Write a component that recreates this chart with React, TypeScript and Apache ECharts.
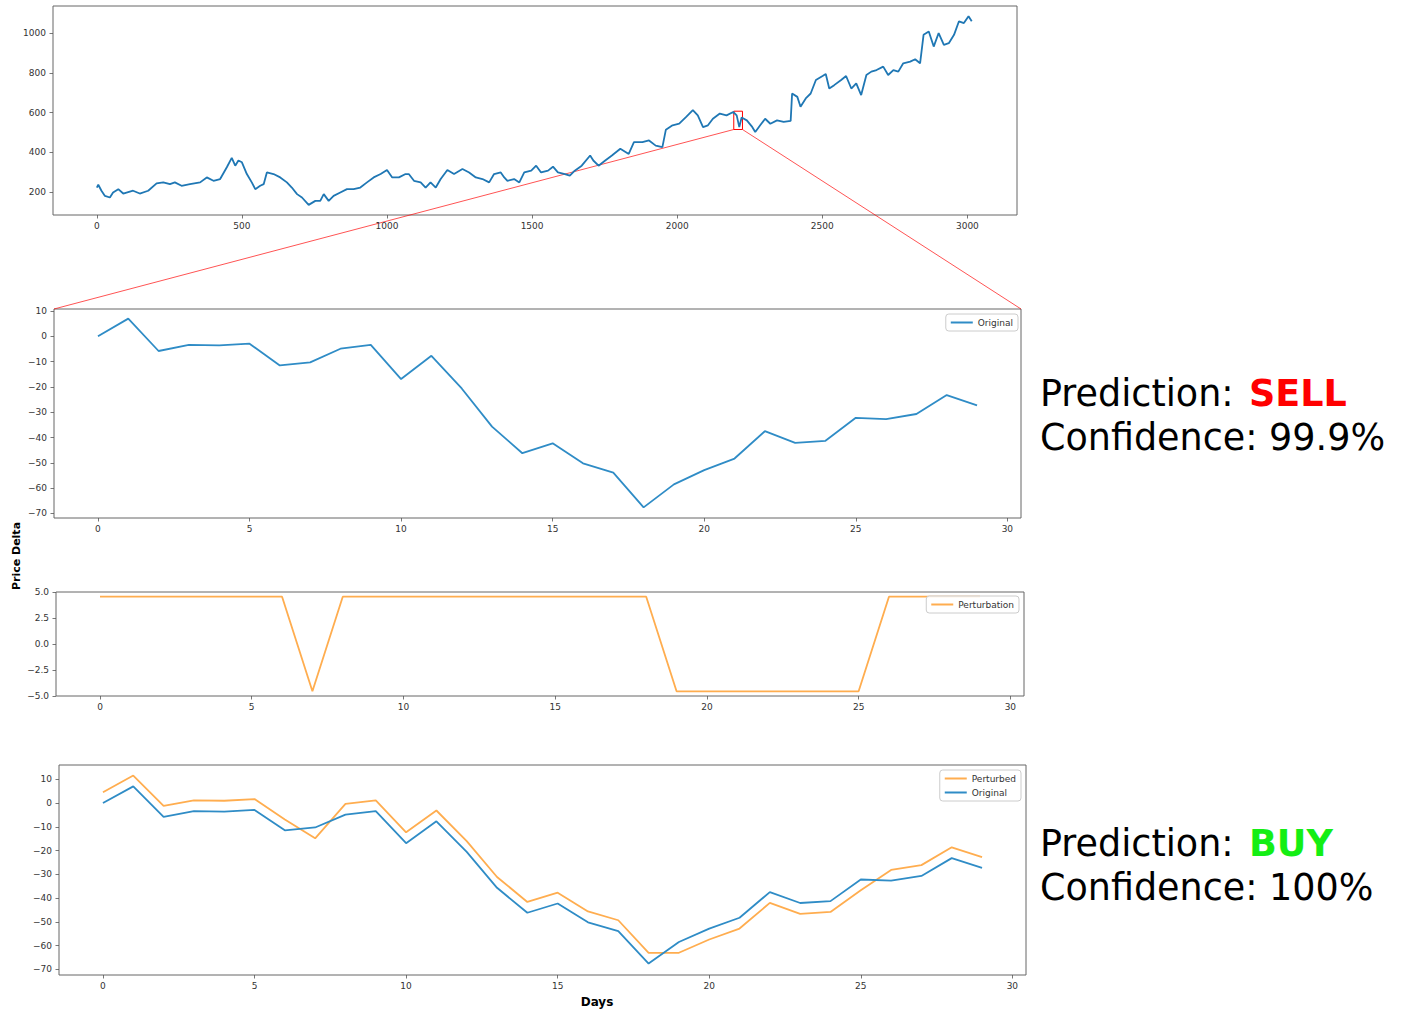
import React, { useEffect, useRef } from 'react';
import * as echarts from 'echarts';

// ---------- data ----------
const topDays = [0,5,16,28,45,56,74,91,125,148,177,206,229,252,269,292,321,356,379,402,425,448,465,477,488,500,517,534,546,563,575,586,609,632,655,672,690,707,730,753,770,782,799,816,839,862,885,908,931,954,978,1000,1018,1041,1064,1075,1093,1116,1133,1150,1168,1185,1208,1231,1260,1283,1306,1329,1352,1369,1392,1404,1415,1438,1456,1473,1497,1514,1531,1555,1572,1589,1613,1630,1647,1671,1700,1711,1729,1752,1775,1804,1833,1851,1880,1903,1926,1949,1961,1984,2007,2031,2054,2071,2089,2106,2123,2147,2170,2193,2205,2214,2222,2240,2257,2269,2286,2303,2321,2344,2367,2391,2396,2414,2425,2443,2460,2478,2501,2512,2524,2541,2565,2582,2600,2617,2634,2652,2669,2687,2710,2727,2745,2762,2779,2803,2820,2837,2849,2867,2884,2901,2919,2936,2954,2971,2988,3004,3015];
const topPrices = [223,237,207,181,173,198,215,193,207,193,207,244,249,240,249,232,240,249,274,257,266,325,372,333,359,350,291,249,215,232,240,299,291,274,249,223,190,173,136,156,156,190,156,181,198,215,215,223,249,274,291,311,274,274,291,291,257,249,223,249,223,266,311,291,316,299,274,266,249,291,299,274,257,266,249,299,308,333,299,308,328,299,291,283,308,333,384,359,333,359,384,418,392,451,451,460,434,426,514,536,544,578,612,586,527,536,569,595,586,603,586,527,575,561,531,502,536,569,544,561,553,558,696,679,629,671,696,764,784,794,721,738,764,784,721,747,688,789,806,814,831,789,814,806,848,856,868,848,991,1008,932,1000,941,949,991,1059,1050,1084,1059];

// zoom window highlighted on the top chart [startDay, endDay], [low, high]
const zoomDays = [2195, 2225];
const zoomPrices = [515, 607];

const days = Array.from({ length: 30 }, (_, i) => i);
const original = [0, 7.0, -5.8, -3.4, -3.6, -2.9, -11.5, -10.3, -4.9, -3.4, -16.9, -7.7, -20.6, -35.7, -46.2, -42.3, -50.2, -53.9, -67.6, -58.5, -52.9, -48.3, -37.5, -42.1, -41.3, -32.2, -32.7, -30.7, -23.2, -27.3];
const perturbation = [4.55, 4.55, 4.55, 4.55, 4.55, 4.55, 4.55, -4.55, 4.55, 4.55, 4.55, 4.55, 4.55, 4.55, 4.55, 4.55, 4.55, 4.55, 4.55, -4.55, -4.55, -4.55, -4.55, -4.55, -4.55, -4.55, 4.55, 4.55, 4.55, 4.55];
const perturbed = [4.55, 11.55, -1.25, 1.15, 0.95, 1.65, -6.95, -14.85, -0.35, 1.15, -12.35, -3.15, -16.05, -31.15, -41.65, -37.75, -45.65, -49.35, -63.05, -63.05, -57.45, -52.85, -42.05, -46.65, -45.85, -36.75, -28.15, -26.15, -18.65, -22.75];

const topXTicks = [0, 500, 1000, 1500, 2000, 2500, 3000];
const topYTicks = [200, 400, 600, 800, 1000];
const dayTicks = [0, 5, 10, 15, 20, 25, 30];
const deltaTicks = [-70, -60, -50, -40, -30, -20, -10, 0, 10];
const pertTicks = [-5, -2.5, 0, 2.5, 5];

const prediction1 = { label: 'SELL', color: '#ff0000', confidence: '99.9%' };
const prediction2 = { label: 'BUY', color: '#14ee14', confidence: '100%' };

// ---------- styling ----------
const FONT = 'DejaVu Sans';
const BLUE_TOP = '#1f77b4';
const BLUE = '#2f8cc6';
const ORANGE = '#ffad4f';
const SPINE = '#666';

const minus = (v: number, digits: number) => {
  const s = Math.abs(v).toFixed(digits);
  return v < 0 ? '\u2212' + s : s;
};

const mkAxis = (gridIndex: number, min: number, max: number, ticks: number[], digits: number, isY: boolean) => ({
  type: 'value',
  gridIndex,
  min,
  max,
  position: isY ? 'left' : 'bottom',
  axisLine: { show: false, onZero: false },
  splitLine: { show: false },
  axisTick: {
    show: true,
    inside: false,
    length: 3.5,
    lineStyle: { color: '#555', width: 0.8 },
    customValues: ticks,
  },
  axisLabel: {
    customValues: ticks,
    fontSize: 9,
    fontFamily: FONT,
    color: '#333',
    margin: isY ? 7 : 6,
    formatter: (v: number) => minus(v, digits),
  },
});

const legendBase = {
  icon: 'rect',
  itemWidth: 22,
  itemHeight: 2,
  padding: [3, 5, 3, 5],
  borderColor: '#ccc',
  borderWidth: 1,
  borderRadius: 3,
  backgroundColor: 'rgba(255,255,255,0.85)',
  selectedMode: false,
  textStyle: { fontSize: 9, fontFamily: FONT, color: '#333', lineHeight: 11 },
};

const pairs = (xs: number[], ys: number[]) => xs.map((x, i) => [x, ys[i]]);

export default function App() {
  const ref = useRef<HTMLDivElement>(null);

  useEffect(() => {
    const chart = echarts.init(ref.current as HTMLDivElement, null, { renderer: 'svg' });
    const gridStyle = { show: true, borderColor: SPINE, borderWidth: 1, backgroundColor: 'transparent' };
    const option: any = {
      animation: false,
      backgroundColor: '#fff',
      grid: [
        { ...gridStyle, left: 53, top: 6, width: 964, height: 209 },
        { ...gridStyle, left: 54, top: 309, width: 967, height: 209 },
        { ...gridStyle, left: 56, top: 592, width: 968, height: 104 },
        { ...gridStyle, left: 59, top: 765, width: 967, height: 210 },
      ],
      xAxis: [
        mkAxis(0, -151, 3171, topXTicks, 0, false),
        mkAxis(1, -1.45, 30.45, dayTicks, 0, false),
        mkAxis(2, -1.45, 30.45, dayTicks, 0, false),
        mkAxis(3, -1.45, 30.45, dayTicks, 0, false),
      ],
      yAxis: [
        mkAxis(0, 85, 1136, topYTicks, 0, true),
        mkAxis(1, -71.8, 10.8, deltaTicks, 0, true),
        mkAxis(2, -5, 5, pertTicks, 1, true),
        mkAxis(3, -72.4, 16.0, deltaTicks, 0, true),
      ],
      legend: [
        { ...legendBase, data: ['Original'], right: 385, top: 314 },
        { ...legendBase, data: ['Perturbation'], right: 384, top: 596 },
        { ...legendBase, data: ['Perturbed', 'Original'], orient: 'vertical', itemGap: 3, right: 382, top: 770 },
      ],
      series: [
        {
          name: 'Price',
          type: 'line',
          xAxisIndex: 0,
          yAxisIndex: 0,
          data: pairs(topDays, topPrices),
          showSymbol: false,
          symbol: 'none',
          lineStyle: { color: BLUE_TOP, width: 1.8 },
          itemStyle: { color: BLUE_TOP },
          markArea: {
            silent: true,
            itemStyle: { color: 'rgba(0,0,0,0)', borderColor: '#ff0000', borderWidth: 1 },
            data: [[{ coord: [zoomDays[0], zoomPrices[1]] }, { coord: [zoomDays[1], zoomPrices[0]] }]],
          },
        },
        {
          name: 'Original',
          type: 'line',
          xAxisIndex: 1,
          yAxisIndex: 1,
          data: pairs(days, original),
          showSymbol: false,
          symbol: 'none',
          lineStyle: { color: BLUE, width: 1.8 },
          itemStyle: { color: BLUE },
        },
        {
          name: 'Perturbation',
          type: 'line',
          xAxisIndex: 2,
          yAxisIndex: 2,
          data: pairs(days, perturbation),
          showSymbol: false,
          symbol: 'none',
          lineStyle: { color: ORANGE, width: 1.8 },
          itemStyle: { color: ORANGE },
        },
        {
          name: 'Perturbed',
          type: 'line',
          xAxisIndex: 3,
          yAxisIndex: 3,
          data: pairs(days, perturbed),
          showSymbol: false,
          symbol: 'none',
          lineStyle: { color: ORANGE, width: 1.8 },
          itemStyle: { color: ORANGE },
        },
        {
          name: 'Original',
          type: 'line',
          xAxisIndex: 3,
          yAxisIndex: 3,
          data: pairs(days, original),
          showSymbol: false,
          symbol: 'none',
          lineStyle: { color: BLUE, width: 1.8 },
          itemStyle: { color: BLUE },
        },
      ],
    };
    chart.setOption(option);

    const bl = chart.convertToPixel({ gridIndex: 0 } as any, [zoomDays[0], zoomPrices[0]]) as number[];
    const br = chart.convertToPixel({ gridIndex: 0 } as any, [zoomDays[1], zoomPrices[0]]) as number[];
    const tl = chart.convertToPixel({ gridIndex: 1 } as any, [-1.45, 10.8]) as number[];
    const tr = chart.convertToPixel({ gridIndex: 1 } as any, [30.45, 10.8]) as number[];

    const bigText = (x: number, y: number, text: string, fill = '#000', bold = false) => ({
      type: 'text',
      x,
      y,
      silent: true,
      style: {
        text,
        fontSize: 36.5,
        fontFamily: FONT,
        fontWeight: bold ? 'bold' : 'normal',
        fill,
        align: 'left',
        verticalAlign: 'middle',
      },
    });

    chart.setOption({
      graphic: [
        { type: 'line', silent: true, shape: { x1: bl[0], y1: bl[1], x2: tl[0], y2: tl[1] }, style: { stroke: '#ff0000', lineWidth: 0.8, opacity: 0.85 } },
        { type: 'line', silent: true, shape: { x1: br[0], y1: br[1], x2: tr[0], y2: tr[1] }, style: { stroke: '#ff0000', lineWidth: 0.8, opacity: 0.85 } },
        bigText(1040, 393, 'Prediction:'),
        bigText(1249, 393, prediction1.label, prediction1.color, true),
        bigText(1040, 437, `Confidence: ${prediction1.confidence}`),
        bigText(1040, 843, 'Prediction:'),
        bigText(1249, 843, prediction2.label, prediction2.color, true),
        bigText(1040, 887, `Confidence: ${prediction2.confidence}`),
        {
          type: 'text',
          x: 16.5,
          y: 556,
          rotation: Math.PI / 2,
          silent: true,
          style: { text: 'Price Delta', fontSize: 11, fontWeight: 'bold', fontFamily: FONT, fill: '#000', align: 'center', verticalAlign: 'middle' },
        },
        {
          type: 'text',
          x: 597,
          y: 1002,
          silent: true,
          style: { text: 'Days', fontSize: 12, fontWeight: 'bold', fontFamily: FONT, fill: '#000', align: 'center', verticalAlign: 'middle' },
        },
      ],
    });

    return () => chart.dispose();
  }, []);

  return (
    <div
      ref={ref}
      style={{ position: 'absolute', left: 0, top: 0, width: 1403, height: 1011, background: '#fff' }}
    />
  );
}
